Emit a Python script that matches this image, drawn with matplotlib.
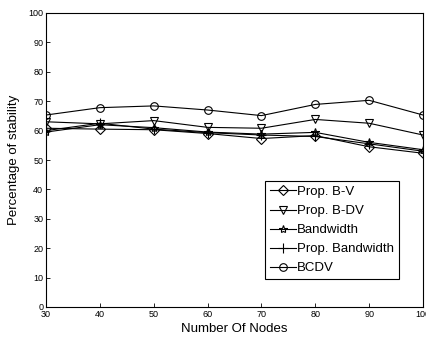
import matplotlib
matplotlib.use('Agg')
import matplotlib.pyplot as plt

# data
nodes = [30, 40, 50, 60, 70, 80, 90, 100]
prop_bv = [60.8, 60.5, 60.3, 59.0, 57.3, 58.3, 54.5, 52.3]
prop_bdv = [63.0, 62.3, 63.4, 61.1, 60.8, 63.8, 62.5, 58.5]
bandwidth = [59.5, 62.0, 61.0, 59.5, 58.8, 59.4, 56.0, 53.5]
prop_bandwidth = [60.0, 62.5, 60.5, 59.3, 58.5, 58.0, 55.5, 53.0]
bcdv = [65.3, 67.8, 68.4, 67.0, 65.1, 68.9, 70.3, 65.3]

plt.rcParams['font.family'] = ['Liberation Sans', 'DejaVu Sans']

fig = plt.figure(figsize=(4.26, 3.43), dpi=100)
ax = fig.add_axes([46 / 426, 1 - 307 / 343, 377 / 426, 294 / 343])

kw = dict(color='black', lw=0.8, markerfacecolor='none', markeredgecolor='black',
          markeredgewidth=0.8, markersize=5.5)
ax.plot(nodes, prop_bv, marker='D', label='Prop. B-V', **{**kw, 'markersize': 4.8})
ax.plot(nodes, prop_bdv, marker='v', label='Prop. B-DV', **kw)
ax.plot(nodes, bandwidth, marker='*', label='Bandwidth', **{**kw, 'markersize': 6})
ax.plot(nodes, prop_bandwidth, marker='+', label='Prop. Bandwidth', **{**kw, 'markersize': 7})
ax.plot(nodes, bcdv, marker='o', label='BCDV', **kw)

ax.set_xlim(30, 100)
ax.set_ylim(0, 100)
ax.set_xticks(nodes)
ax.set_yticks(range(0, 101, 10))
ax.tick_params(direction='in', length=3, labelsize=6.5, width=0.6, pad=2)
for s in ax.spines.values():
    s.set_linewidth(0.8)

ax.set_xlabel('Number Of Nodes', fontsize=9.5, labelpad=3)
ax.set_ylabel('Percentage of stability', fontsize=9.5, labelpad=6)

leg = ax.legend(loc='lower right', bbox_to_anchor=(0.936, 0.095), fontsize=9.5,
                fancybox=False, framealpha=1, edgecolor='black',
                borderpad=0.35, labelspacing=0.52, handlelength=2.0,
                handletextpad=0.1, borderaxespad=0)
leg.get_frame().set_linewidth(0.8)

fig.savefig('out.png', dpi=100)
